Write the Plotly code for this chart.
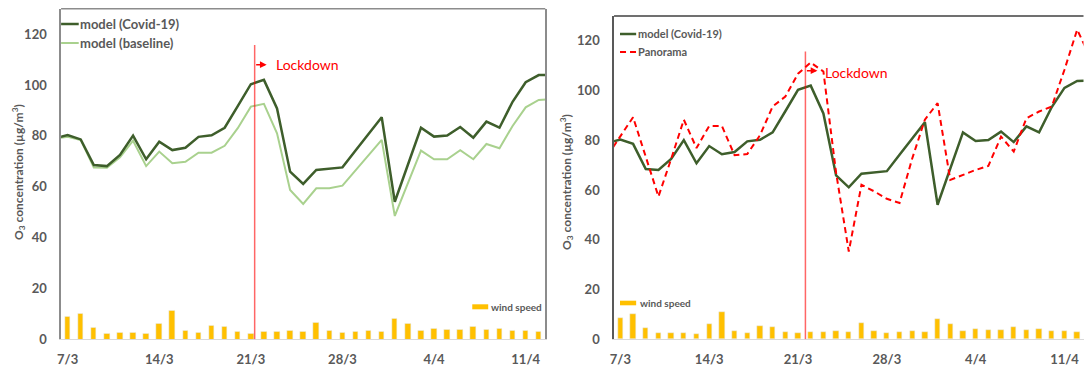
import plotly.graph_objects as go
import pandas as pd

# ---------------- data ----------------
DATES = pd.date_range("2020-03-06", "2020-04-13", freq="D")   # daily, 6/3 .. 13/4
WIND_DATES = DATES[1:-1]                                        # 7/3 .. 12/4

COVID = [79.0, 80.3, 78.6, 68.5, 68.1, 72.5, 80.1, 70.8, 77.7, 74.4, 75.3, 79.6, 80.2,
         83.2, 91.7, 100.3, 102.0, 90.8, 65.9, 61.1, 66.6, 67.0, 67.6, 74.2, 80.7, 87.3,
         54.1, 68.7, 83.2, 79.7, 80.1, 83.5, 79.3, 85.6, 83.2, 93.4, 101.1, 103.9, 104.0]
BASELINE = [79.0, 79.6, 78.4, 67.6, 67.5, 71.6, 78.1, 68.1, 73.8, 69.2, 69.8, 73.4, 73.4,
            76.1, 83.0, 91.5, 92.6, 81.0, 58.7, 53.2, 59.4, 59.4, 60.4, 66.4, 72.4, 78.4,
            48.5, 61.4, 74.2, 70.8, 70.8, 74.4, 70.8, 76.8, 75.1, 83.9, 91.2, 94.1, 94.5]
PANORAMA = [74.0, 81.7, 89.3, 73.4, 57.4, 72.5, 88.3, 76.9, 85.8, 85.8, 74.0, 74.5, 82.0,
            93.6, 97.6, 106.8, 111.3, 107.7, 67.0, 35.3, 62.1, 59.5, 56.5, 54.8, 72.7, 88.3,
            95.0, 64.1, 66.1, 68.1, 69.7, 81.5, 75.5, 88.9, 91.6, 93.6, 108.4, 124.5, 113.7]
WIND = [8.7, 10.2, 4.6, 2.4, 2.5, 2.5, 2.1, 6.3, 11.1, 3.3, 2.6, 5.5, 5.0, 2.9, 2.4, 2.9,
        2.9, 3.5, 2.9, 6.7, 3.3, 2.6, 2.9, 3.3, 2.9,
        8.1, 6.1, 3.3, 4.2, 3.8, 3.8, 5.1, 3.7, 4.1, 3.3, 3.3, 2.9]

TICK_VALS = ["2020-03-07", "2020-03-14", "2020-03-21", "2020-03-28", "2020-04-04", "2020-04-11"]
TICK_TEXT = ["7/3", "14/3", "21/3", "28/3", "4/4", "11/4"]
Y_TICKS = [0, 20, 40, 60, 80, 100, 120]
X_RANGE = ["2020-03-06 12:00", "2020-04-12 12:00"]
LOCKDOWN_LEFT = "2020-03-21 07:00"
LOCKDOWN_RIGHT = "2020-03-21 14:00"
LOCKDOWN_TOP = 115.7
ARROW_Y = 108

# ---------------- style ----------------
W, H = 1084, 376
REF_H = 368
C_COVID = "#3E5E2B"
C_BASE = "#A9D18E"
C_PANO = "#FF0000"
C_WIND = "#FFC000"
C_TXT = "#595959"
FONT = "Lato"
BAR_W = 0.42 * 86400000


def px(x):
    return x / W


def py(y):
    return 1 - y / REF_H


fig = go.Figure()

# left panel
fig.add_trace(go.Bar(x=WIND_DATES, y=WIND, marker_color=C_WIND, width=BAR_W,
                     xaxis="x", yaxis="y", showlegend=False))
fig.add_trace(go.Scatter(x=DATES, y=BASELINE, mode="lines", line=dict(color=C_BASE, width=2),
                         xaxis="x", yaxis="y", showlegend=False))
fig.add_trace(go.Scatter(x=DATES, y=COVID, mode="lines", line=dict(color=C_COVID, width=2.5),
                         xaxis="x", yaxis="y", showlegend=False))
# right panel
fig.add_trace(go.Bar(x=WIND_DATES, y=WIND, marker_color=C_WIND, width=BAR_W,
                     xaxis="x2", yaxis="y2", showlegend=False))
fig.add_trace(go.Scatter(x=DATES, y=COVID, mode="lines", line=dict(color=C_COVID, width=2.5),
                         xaxis="x2", yaxis="y2", showlegend=False))
fig.add_trace(go.Scatter(x=DATES, y=PANORAMA, mode="lines",
                         line=dict(color=C_PANO, width=2, dash="6px,4px"),
                         xaxis="x2", yaxis="y2", showlegend=False))

tickfont = dict(family=FONT, size=13, color=C_TXT, weight="bold")
xcommon = dict(type="date", range=X_RANGE, tickvals=TICK_VALS, ticktext=TICK_TEXT,
               showgrid=False, zeroline=False, showline=True, linecolor="#D9D9D9",
               linewidth=1, ticks="", tickfont=tickfont, ticklabelstandoff=8, fixedrange=True)
ycommon = dict(range=[0, 130], tickvals=Y_TICKS, showgrid=False, zeroline=False,
               showline=True, ticks="", tickfont=tickfont, ticklabelstandoff=10,
               fixedrange=True)

fig.update_layout(
    width=W, height=H, margin=dict(l=0, r=0, t=0, b=0),
    paper_bgcolor="white", plot_bgcolor="white", bargap=0,
    xaxis=dict(domain=[px(57.3), px(543.3)], anchor="y", **xcommon),
    yaxis=dict(domain=[py(339.3), py(8.7)], anchor="x", linecolor="#8C8C8C",
               linewidth=1.5, mirror=True, **ycommon),
    xaxis2=dict(domain=[px(612.3), px(1083.5)], anchor="y2", **xcommon),
    yaxis2=dict(domain=[py(339.3), py(16)], anchor="x2", linecolor="#595959",
                linewidth=1.5, **ycommon),
)

shapes = []
annos = []
# top borders
shapes.append(dict(type="line", xref="x domain", yref="y domain", x0=0, x1=1, y0=1, y1=1,
                   line=dict(color="#8C8C8C", width=1.5)))
shapes.append(dict(type="line", xref="x2 domain", yref="y2 domain", x0=0, x1=1, y0=1, y1=1,
                   line=dict(color="#404040", width=1.5)))

# lockdown markers
for xr, yr, ld, tx, ty in [("x", "y", LOCKDOWN_LEFT, 270.5, 65), ("x2", "y2", LOCKDOWN_RIGHT, 822, 72)]:
    shapes.append(dict(type="line", xref=xr, yref=yr, x0=ld, x1=ld, y0=0, y1=LOCKDOWN_TOP,
                       line=dict(color="rgba(255,0,0,0.6)", width=1.5)))
    annos.append(dict(xref=xr, yref=yr, x=ld, y=ARROW_Y, text="", showarrow=True,
                      ax=-12, ay=0, xshift=12, arrowhead=2, arrowsize=0.9, arrowwidth=1.5,
                      arrowcolor="#FF0000", standoff=0, startstandoff=0))
    annos.append(dict(xref="paper", yref="paper", x=px(tx), y=py(ty), text="Lockdown",
                      showarrow=False, xanchor="left", yanchor="middle",
                      font=dict(family=FONT, size=14, color="#FF0000")))

# legends (left panel)
shapes.append(dict(type="line", xref="paper", yref="paper", x0=px(57.3), x1=px(75), y0=py(24), y1=py(24),
                   line=dict(color=C_COVID, width=2.5)))
shapes.append(dict(type="line", xref="paper", yref="paper", x0=px(57.3), x1=px(75), y0=py(43), y1=py(43),
                   line=dict(color=C_BASE, width=2)))
annos.append(dict(xref="paper", yref="paper", x=px(74), y=py(24), text="model (Covid-19)",
                  showarrow=False, xanchor="left", yanchor="middle",
                  font=dict(family=FONT, size=13, color=C_TXT, weight="bold")))
annos.append(dict(xref="paper", yref="paper", x=px(74), y=py(43), text="model (baseline)",
                  showarrow=False, xanchor="left", yanchor="middle",
                  font=dict(family=FONT, size=13, color=C_TXT, weight="bold")))
shapes.append(dict(type="rect", xref="paper", yref="paper", x0=px(470), x1=px(486),
                   y0=py(309.3), y1=py(304.3), fillcolor=C_WIND, line=dict(width=0)))
annos.append(dict(xref="paper", yref="paper", x=px(487), y=py(307), text="wind speed",
                  showarrow=False, xanchor="left", yanchor="middle",
                  font=dict(family=FONT, size=10, color=C_TXT, weight="bold")))

# legends (right panel)
shapes.append(dict(type="line", xref="paper", yref="paper", x0=px(618.3), x1=px(634.5), y0=py(34), y1=py(34),
                   line=dict(color=C_COVID, width=2.5)))
shapes.append(dict(type="line", xref="paper", yref="paper", x0=px(618.3), x1=px(634.5), y0=py(52), y1=py(52),
                   line=dict(color=C_PANO, width=2, dash="6px,4px")))
annos.append(dict(xref="paper", yref="paper", x=px(634), y=py(34), text="model (Covid-19)",
                  showarrow=False, xanchor="left", yanchor="middle",
                  font=dict(family=FONT, size=11, color=C_TXT, weight="bold")))
annos.append(dict(xref="paper", yref="paper", x=px(634), y=py(52), text="Panorama",
                  showarrow=False, xanchor="left", yanchor="middle",
                  font=dict(family=FONT, size=11, color=C_TXT, weight="bold")))
shapes.append(dict(type="rect", xref="paper", yref="paper", x0=px(618.3), x1=px(634.5),
                   y0=py(305.3), y1=py(300.7), fillcolor=C_WIND, line=dict(width=0)))
annos.append(dict(xref="paper", yref="paper", x=px(636), y=py(303), text="wind speed",
                  showarrow=False, xanchor="left", yanchor="middle",
                  font=dict(family=FONT, size=10, color=C_TXT, weight="bold")))

# y-axis titles
YTITLE = "O<sub>3</sub> concentration (µg/m<sup>3</sup>)"
for tx, ty in [(15, 172), (565, 182)]:
    annos.append(dict(xref="paper", yref="paper", x=px(tx), y=py(ty), text=YTITLE,
                      textangle=-90, showarrow=False, xanchor="center", yanchor="middle",
                      font=dict(family=FONT, size=12, color=C_TXT, weight="bold")))

fig.update_layout(shapes=shapes, annotations=annos)
fig.write_html("out.html", config={"displayModeBar": False},
               post_script="document.body.style.margin='0px';document.body.style.overflow='hidden';")
